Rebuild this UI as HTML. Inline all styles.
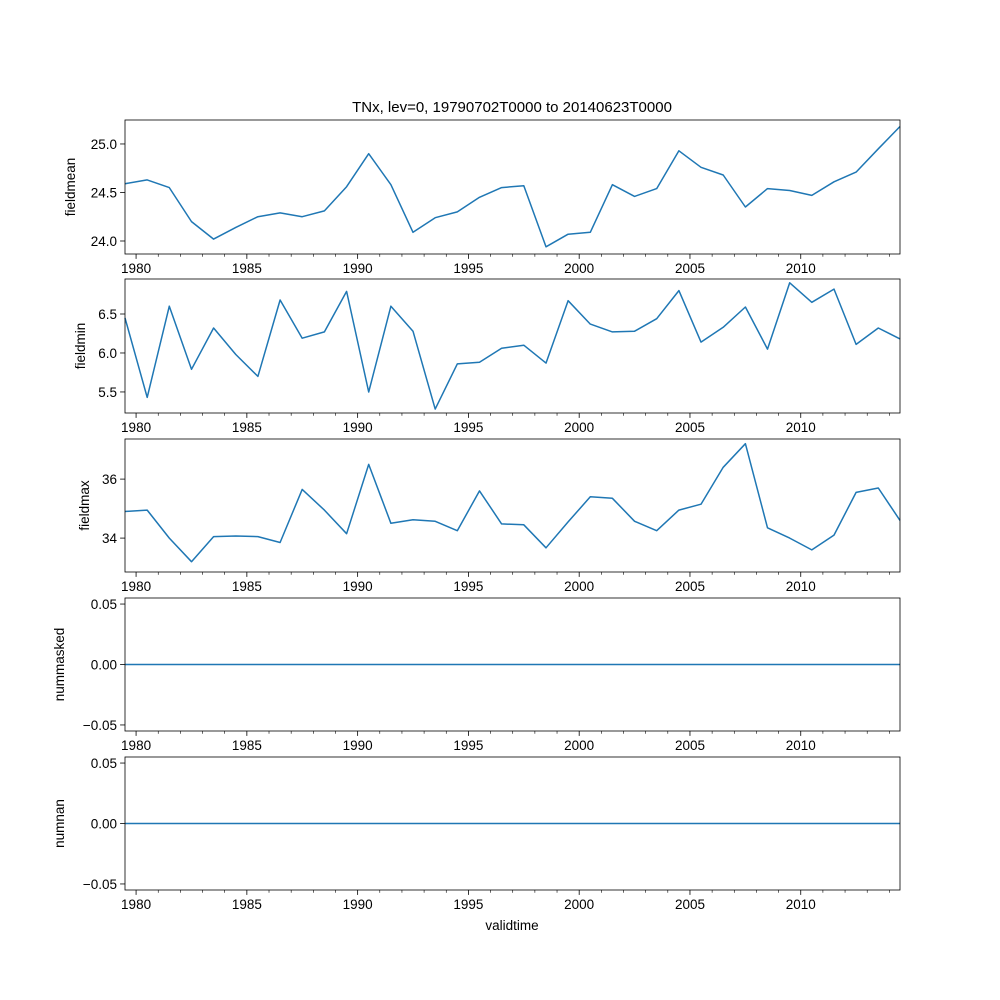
<!DOCTYPE html>
<html><head><meta charset="utf-8"><style>
html,body{margin:0;padding:0;background:#fff;}
svg{display:block;font-family:"Liberation Sans","DejaVu Sans",sans-serif;}
</style></head><body>
<svg id="chart" width="1000" height="1000" viewBox="0 0 1000 1000">
<text x="512" y="112" text-anchor="middle" font-size="15">TNx, lev=0, 19790702T0000 to 20140623T0000</text>
<text x="512" y="930" text-anchor="middle" font-size="13.5">validtime</text>
</svg>
<script>
const fieldmean=[24.59,24.63,24.55,24.20,24.02,24.14,24.25,24.29,24.25,24.31,24.56,24.90,24.58,24.09,24.24,24.30,24.45,24.55,24.57,23.94,24.07,24.09,24.58,24.46,24.54,24.93,24.76,24.68,24.35,24.54,24.52,24.47,24.61,24.71,24.95,25.18];
const fieldmin=[6.45,5.43,6.60,5.79,6.32,5.98,5.70,6.68,6.19,6.27,6.79,5.50,6.60,6.28,5.28,5.86,5.88,6.06,6.10,5.87,6.67,6.37,6.27,6.28,6.44,6.80,6.14,6.33,6.59,6.05,6.90,6.65,6.82,6.11,6.32,6.18];
const fieldmax=[34.9,34.95,34.0,33.2,34.05,34.07,34.05,33.85,35.65,34.95,34.15,36.5,34.5,34.62,34.57,34.25,35.6,34.48,34.45,33.67,34.55,35.4,35.35,34.57,34.25,34.95,35.15,36.4,37.2,34.35,34.0,33.6,34.1,35.55,35.7,34.6];
const nummasked=new Array(36).fill(0);
const numnan=new Array(36).fill(0);
const years=[1979.5,1980.5,1981.5,1982.5,1983.5,1984.5,1985.5,1986.5,1987.5,1988.5,1989.5,1990.5,1991.5,1992.5,1993.5,1994.5,1995.5,1996.5,1997.5,1998.5,1999.5,2000.5,2001.5,2002.5,2003.5,2004.5,2005.5,2006.5,2007.5,2008.5,2009.5,2010.5,2011.5,2012.5,2013.5,2014.48];
const xTickLabels=["1980","1985","1990","1995","2000","2005","2010"];
const fmTicks=["24.0","24.5","25.0"], fnTicks=["5.5","6.0","6.5"], fxTicks=["34","36"], zTicks=["−0.05","0.00","0.05"];
const fmTickVals=[24.0,24.5,25.0], fnTickVals=[5.5,6.0,6.5], fxTickVals=[34,36], zTickVals=[-0.05,0,0.05];

const NS="http://www.w3.org/2000/svg";
const svg=document.getElementById('chart');
const L=125,R=900;
const X0=1979.5,X1=2014.48;
function xs(v){return L+(v-X0)/(X1-X0)*(R-L);}
function mk(tag,attrs,parent){const e=document.createElementNS(NS,tag);for(const k in attrs)e.setAttribute(k,attrs[k]);(parent||svg).appendChild(e);return e;}
const panels=[
 {name:'fieldmean',data:fieldmean,top:120,bot:254,lo:23.866,hi:25.247,tl:fmTicks,tv:fmTickVals,lx:75},
 {name:'fieldmin',data:fieldmin,top:279,bot:413,lo:5.23,hi:6.949,tl:fnTicks,tv:fnTickVals,lx:85},
 {name:'fieldmax',data:fieldmax,top:439,bot:572,lo:32.85,hi:37.36,tl:fxTicks,tv:fxTickVals,lx:89},
 {name:'nummasked',data:nummasked,top:598,bot:731,lo:-0.055,hi:0.055,tl:zTicks,tv:zTickVals,lx:64},
 {name:'numnan',data:numnan,top:757,bot:890,lo:-0.055,hi:0.055,tl:zTicks,tv:zTickVals,lx:64}
];
panels.forEach(p=>{
 const g=mk('g',{});
 
 
 const ys=v=>p.bot-(v-p.lo)/(p.hi-p.lo)*(p.bot-p.top);
 let d='';
 p.data.forEach((v,i)=>{d+=(i?'L':'M')+xs(years[i]).toFixed(1)+','+ys(v).toFixed(1);});
 const path=mk('path',{d:d,fill:'none',stroke:'#1f77b4','stroke-width':1.5,'stroke-linejoin':'round'},g);
 
 
 const fr=mk('rect',{x:L,y:p.top,width:R-L,height:p.bot-p.top,fill:'none',stroke:'#000','stroke-width':0.8},g);
 
 
 p.tv.forEach((v,i)=>{
  const y=ys(v);
  mk('line',{x1:L-4.9,x2:L,y1:y,y2:y,stroke:'#000','stroke-width':0.8},g);
  const t=mk('text',{x:L-8,y:y+4.8,'text-anchor':'end','font-size':13.5},g);
  t.textContent=p.tl[i];
  
  
 });
 for(let yr=1980;yr<=2014;yr++){
  const x=xs(yr);
  const major=(yr%5===0);
  mk('line',{x1:x,x2:x,y1:p.bot,y2:p.bot+(major?4.9:2.8),stroke:'#000','stroke-width':major?0.8:0.6},g);
 }
 xTickLabels.forEach(lbl=>{
  const t=mk('text',{x:xs(+lbl),y:p.bot+19,'text-anchor':'middle','font-size':13.5},g);
  t.textContent=lbl;
  
  
 });
 const cy=(p.top+p.bot)/2;
 const yl=mk('text',{x:p.lx,y:cy,'text-anchor':'middle','font-size':13.5,transform:'rotate(-90 '+p.lx+' '+cy+')'},g);
 yl.textContent=p.name;
 
 
});
</script>
</body></html>
